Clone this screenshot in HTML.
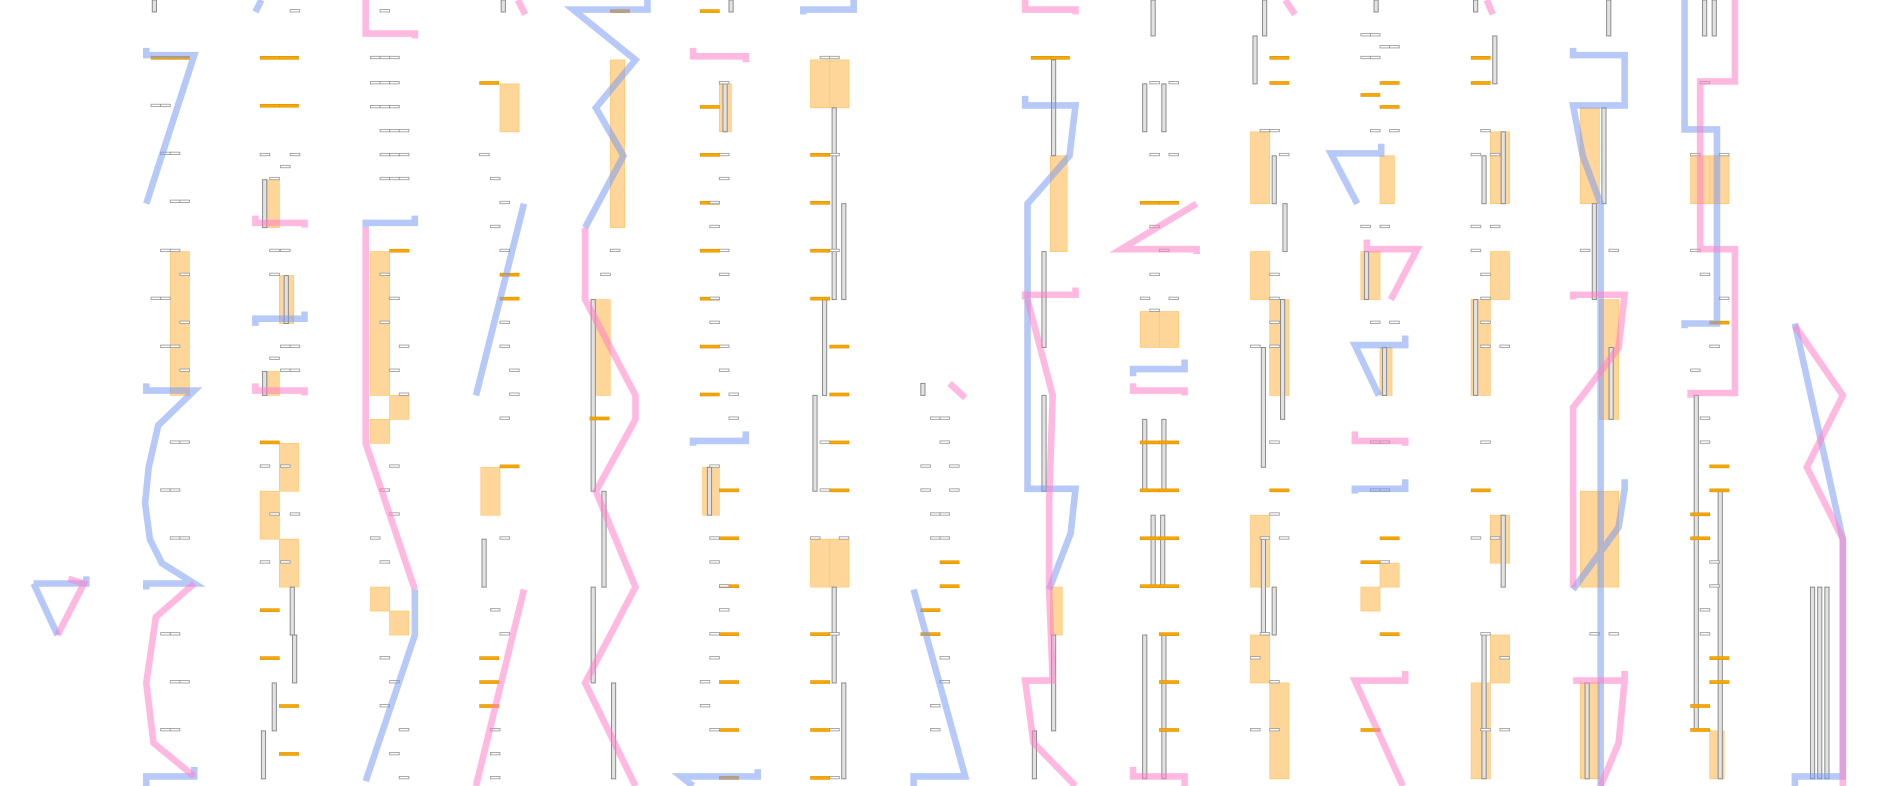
<!DOCTYPE html>
<html><head><meta charset="utf-8"><style>
html,body{margin:0;padding:0;background:#fff;width:1880px;height:786px;overflow:hidden}
svg{display:block}
.o{fill:#ffd699;stroke:#ffc870;stroke-width:.6}
.b{fill:none;stroke:#7b9cf2;stroke-width:5.5;stroke-linejoin:miter;opacity:.55}
.b2{fill:none;stroke:#b9cbfb;stroke-width:3.5;stroke-linejoin:miter;opacity:.6}
.p{fill:none;stroke:#ff80c8;stroke-width:5.5;stroke-linejoin:miter;opacity:.55}
.v{fill:#e2e2e2;stroke:#888;stroke-width:.8}
.g{fill:#fff;stroke:#999;stroke-width:.7}
.d{fill:#f5a800;stroke:#e09000;stroke-width:.5}
</style></head><body>
<svg width="1880" height="786" viewBox="0 0 1568 656" preserveAspectRatio="none" xmlns="http://www.w3.org/2000/svg">
<g class="o">
<rect x="142" y="210" width="16" height="120"/>
<rect x="223" y="150" width="10" height="40"/><rect x="233" y="230" width="12" height="40"/><rect x="223" y="310" width="10" height="20"/>
<rect x="233" y="370" width="16" height="40"/><rect x="217" y="410" width="16" height="40"/><rect x="233" y="450" width="16" height="40"/>
<rect x="309" y="210" width="16" height="120"/><rect x="309" y="350" width="16" height="20"/><rect x="325" y="330" width="16" height="20"/>
<rect x="309" y="490" width="16" height="20"/><rect x="325" y="510" width="16" height="20"/>
<rect x="417" y="70" width="16" height="40"/><rect x="401" y="390" width="16" height="40"/>
<rect x="509" y="50" width="12" height="140"/><rect x="493" y="250" width="16" height="80"/>
<rect x="600" y="70" width="10" height="40"/><rect x="586" y="390" width="14" height="40"/>
<rect x="676" y="50" width="16" height="40"/><rect x="692" y="50" width="16" height="40"/>
<rect x="676" y="450" width="16" height="40"/><rect x="692" y="450" width="16" height="40"/>
<rect x="876" y="130" width="14" height="80"/><rect x="876" y="490" width="10" height="40"/>
<rect x="951" y="260" width="16" height="30"/><rect x="967" y="260" width="16" height="30"/>
<rect x="1043" y="110" width="16" height="60"/><rect x="1043" y="210" width="16" height="40"/><rect x="1059" y="250" width="16" height="80"/>
<rect x="1043" y="430" width="16" height="60"/><rect x="1043" y="530" width="16" height="40"/><rect x="1059" y="570" width="16" height="80"/>
<rect x="1135" y="210" width="16" height="40"/><rect x="1151" y="130" width="12" height="40"/><rect x="1151" y="290" width="10" height="40"/>
<rect x="1151" y="470" width="16" height="20"/><rect x="1135" y="490" width="16" height="20"/>
<rect x="1243" y="110" width="16" height="60"/><rect x="1243" y="210" width="16" height="40"/><rect x="1227" y="250" width="16" height="80"/>
<rect x="1243" y="430" width="16" height="40"/><rect x="1243" y="530" width="16" height="40"/><rect x="1227" y="570" width="16" height="80"/>
<rect x="1318" y="90" width="16" height="80"/><rect x="1334" y="250" width="16" height="100"/>
<rect x="1318" y="410" width="16" height="80"/><rect x="1334" y="410" width="16" height="80"/><rect x="1318" y="570" width="16" height="80"/>
<rect x="1410" y="130" width="16" height="40"/><rect x="1426" y="130" width="16" height="40"/><rect x="1426" y="610" width="12" height="40"/>
</g>
<g class="v">
<rect x="127" y="0" width="3.5" height="10"/>
<rect x="219" y="150" width="3.5" height="40"/><rect x="237" y="230" width="3.5" height="40"/><rect x="219" y="310" width="3.5" height="20"/>
<rect x="242" y="490" width="3.5" height="40"/><rect x="244" y="530" width="3.5" height="40"/><rect x="227" y="570" width="3.5" height="40"/><rect x="218" y="610" width="3.5" height="40"/>
<rect x="418" y="0" width="3.5" height="10"/><rect x="402" y="450" width="3.5" height="40"/>
<rect x="493" y="250" width="3.5" height="160"/><rect x="502" y="410" width="3.5" height="80"/><rect x="493" y="490" width="3.5" height="80"/><rect x="510" y="570" width="3.5" height="80"/>
<rect x="608" y="0" width="3.5" height="10"/><rect x="603" y="70" width="3.5" height="40"/><rect x="590" y="390" width="3.5" height="40"/>
<rect x="694" y="90" width="3.5" height="160"/><rect x="702" y="170" width="3.5" height="80"/><rect x="686" y="250" width="3.5" height="80"/><rect x="678" y="330" width="3.5" height="80"/>
<rect x="694" y="490" width="3.5" height="80"/><rect x="702" y="570" width="3.5" height="80"/>
<rect x="768" y="320" width="3.5" height="10"/>
<rect x="877" y="50" width="3.5" height="80"/><rect x="869" y="210" width="3.5" height="80"/><rect x="869" y="330" width="3.5" height="80"/>
<rect x="877" y="530" width="3.5" height="80"/><rect x="861" y="610" width="3.5" height="40"/>
<rect x="960" y="0" width="3.5" height="30"/><rect x="953" y="70" width="3.5" height="40"/><rect x="969" y="70" width="3.5" height="40"/>
<rect x="953" y="350" width="3.5" height="60"/><rect x="969" y="350" width="3.5" height="60"/><rect x="960" y="430" width="3.5" height="60"/><rect x="968" y="430" width="3.5" height="60"/>
<rect x="953" y="530" width="3.5" height="120"/><rect x="969" y="530" width="3.5" height="120"/>
<rect x="1053" y="0" width="3.5" height="30"/><rect x="1045" y="30" width="3.5" height="40"/><rect x="1061" y="130" width="3.5" height="40"/><rect x="1070" y="170" width="3.5" height="40"/>
<rect x="1052" y="290" width="3.5" height="100"/><rect x="1068" y="250" width="3.5" height="100"/><rect x="1052" y="450" width="3.5" height="80"/><rect x="1061" y="490" width="3.5" height="40"/>
<rect x="1146" y="0" width="3.5" height="10"/><rect x="1138" y="210" width="3.5" height="40"/><rect x="1153" y="290" width="3.5" height="40"/>
<rect x="1229" y="0" width="3.5" height="10"/><rect x="1236" y="130" width="3.5" height="40"/><rect x="1252" y="110" width="3.5" height="60"/><rect x="1245" y="30" width="3.5" height="40"/>
<rect x="1229" y="250" width="3.5" height="80"/><rect x="1252" y="430" width="3.5" height="60"/><rect x="1236" y="530" width="3.5" height="120"/>
<rect x="1340" y="0" width="3.5" height="30"/><rect x="1328" y="170" width="3.5" height="80"/><rect x="1336" y="90" width="3.5" height="80"/>
<rect x="1322" y="570" width="3.5" height="80"/><rect x="1342" y="290" width="3.5" height="60"/>
<rect x="1420" y="0" width="3.5" height="30"/><rect x="1428" y="0" width="3.5" height="30"/><rect x="1413" y="330" width="3.5" height="280"/><rect x="1433" y="410" width="3.5" height="240"/>
<rect x="1510" y="490" width="3.5" height="160"/><rect x="1516" y="490" width="3.5" height="160"/><rect x="1522" y="490" width="3.5" height="160"/>
</g>
<g class="d">
<rect x="126" y="47" width="16" height="2.5"/><rect x="142" y="47" width="16" height="2.5"/>
<rect x="217" y="47" width="16" height="2.5"/><rect x="233" y="47" width="16" height="2.5"/><rect x="217" y="87" width="16" height="2.5"/><rect x="233" y="87" width="16" height="2.5"/>
<rect x="217" y="368" width="16" height="2.5"/><rect x="217" y="508" width="16" height="2.5"/><rect x="217" y="548" width="16" height="2.5"/><rect x="233" y="588" width="16" height="2.5"/><rect x="233" y="628" width="16" height="2.5"/>
<rect x="325" y="208" width="16" height="2.5"/><rect x="400" y="68" width="16" height="2.5"/><rect x="417" y="228" width="16" height="2.5"/><rect x="417" y="248" width="16" height="2.5"/><rect x="417" y="388" width="16" height="2.5"/>
<rect x="400" y="548" width="16" height="2.5"/><rect x="400" y="568" width="16" height="2.5"/><rect x="400" y="588" width="16" height="2.5"/>
<rect x="492" y="348" width="16" height="2.5"/><rect x="509" y="8" width="16" height="2.5"/>
<rect x="584" y="8" width="16" height="2.5"/><rect x="584" y="88" width="16" height="2.5"/><rect x="584" y="128" width="16" height="2.5"/><rect x="584" y="168" width="16" height="2.5"/>
<rect x="584" y="208" width="16" height="2.5"/><rect x="584" y="248" width="16" height="2.5"/><rect x="584" y="288" width="16" height="2.5"/><rect x="584" y="328" width="16" height="2.5"/>
<rect x="600" y="408" width="16" height="2.5"/><rect x="600" y="448" width="16" height="2.5"/><rect x="600" y="488" width="16" height="2.5"/><rect x="600" y="528" width="16" height="2.5"/>
<rect x="600" y="568" width="16" height="2.5"/><rect x="600" y="608" width="16" height="2.5"/><rect x="600" y="648" width="16" height="2.5"/>
<rect x="676" y="128" width="16" height="2.5"/><rect x="676" y="168" width="16" height="2.5"/><rect x="676" y="208" width="16" height="2.5"/><rect x="676" y="248" width="16" height="2.5"/>
<rect x="692" y="288" width="16" height="2.5"/><rect x="692" y="328" width="16" height="2.5"/><rect x="692" y="368" width="16" height="2.5"/><rect x="692" y="408" width="16" height="2.5"/>
<rect x="676" y="528" width="16" height="2.5"/><rect x="676" y="568" width="16" height="2.5"/><rect x="676" y="608" width="16" height="2.5"/><rect x="676" y="648" width="16" height="2.5"/>
<rect x="784" y="468" width="16" height="2.5"/><rect x="784" y="488" width="16" height="2.5"/><rect x="768" y="508" width="16" height="2.5"/><rect x="768" y="528" width="16" height="2.5"/>
<rect x="860" y="47" width="16" height="2.5"/><rect x="876" y="47" width="16" height="2.5"/>
<rect x="951" y="168" width="16" height="2.5"/><rect x="967" y="168" width="16" height="2.5"/>
<rect x="951" y="368" width="16" height="2.5"/><rect x="967" y="368" width="16" height="2.5"/><rect x="951" y="408" width="16" height="2.5"/><rect x="967" y="408" width="16" height="2.5"/>
<rect x="951" y="448" width="16" height="2.5"/><rect x="967" y="448" width="16" height="2.5"/><rect x="951" y="488" width="16" height="2.5"/><rect x="967" y="488" width="16" height="2.5"/>
<rect x="967" y="528" width="16" height="2.5"/><rect x="967" y="568" width="16" height="2.5"/><rect x="967" y="608" width="16" height="2.5"/>
<rect x="1059" y="47" width="16" height="2.5"/><rect x="1059" y="68" width="16" height="2.5"/><rect x="1059" y="408" width="16" height="2.5"/>
<rect x="1135" y="78" width="16" height="2.5"/><rect x="1151" y="68" width="16" height="2.5"/><rect x="1151" y="88" width="16" height="2.5"/><rect x="1151" y="448" width="16" height="2.5"/>
<rect x="1135" y="468" width="16" height="2.5"/><rect x="1151" y="528" width="16" height="2.5"/><rect x="1135" y="608" width="16" height="2.5"/>
<rect x="1227" y="47" width="16" height="2.5"/><rect x="1227" y="68" width="16" height="2.5"/><rect x="1227" y="408" width="16" height="2.5"/>
<rect x="1426" y="268" width="16" height="2.5"/><rect x="1426" y="388" width="16" height="2.5"/><rect x="1426" y="408" width="16" height="2.5"/><rect x="1410" y="428" width="16" height="2.5"/>
<rect x="1410" y="448" width="16" height="2.5"/><rect x="1426" y="548" width="16" height="2.5"/><rect x="1426" y="568" width="16" height="2.5"/><rect x="1410" y="588" width="16" height="2.5"/><rect x="1410" y="608" width="16" height="2.5"/>
</g>
<g class="g">
<rect x="126" y="87" width="8" height="2"/><rect x="134" y="87" width="8" height="2"/><rect x="134" y="127" width="8" height="2"/><rect x="142" y="127" width="8" height="2"/>
<rect x="142" y="167" width="8" height="2"/><rect x="150" y="167" width="8" height="2"/><rect x="134" y="208" width="8" height="2"/><rect x="142" y="208" width="8" height="2"/>
<rect x="150" y="228" width="8" height="2"/><rect x="126" y="248" width="8" height="2"/><rect x="134" y="248" width="8" height="2"/><rect x="150" y="268" width="8" height="2"/>
<rect x="134" y="288" width="8" height="2"/><rect x="142" y="288" width="8" height="2"/><rect x="150" y="308" width="8" height="2"/>
<rect x="142" y="368" width="8" height="2"/><rect x="150" y="368" width="8" height="2"/><rect x="134" y="408" width="8" height="2"/><rect x="142" y="408" width="8" height="2"/>
<rect x="142" y="448" width="8" height="2"/><rect x="150" y="448" width="8" height="2"/><rect x="134" y="528" width="8" height="2"/><rect x="142" y="528" width="8" height="2"/>
<rect x="142" y="568" width="8" height="2"/><rect x="150" y="568" width="8" height="2"/><rect x="134" y="608" width="8" height="2"/><rect x="142" y="608" width="8" height="2"/>
<rect x="242" y="8" width="8" height="2"/><rect x="217" y="128" width="8" height="2"/><rect x="242" y="128" width="8" height="2"/><rect x="234" y="138" width="8" height="2"/><rect x="225" y="148" width="8" height="2"/>
<rect x="225" y="208" width="8" height="2"/><rect x="234" y="208" width="8" height="2"/><rect x="225" y="228" width="8" height="2"/><rect x="234" y="288" width="8" height="2"/><rect x="242" y="288" width="8" height="2"/>
<rect x="225" y="298" width="8" height="2"/><rect x="234" y="308" width="8" height="2"/><rect x="242" y="308" width="8" height="2"/><rect x="217" y="388" width="8" height="2"/><rect x="234" y="388" width="8" height="2"/>
<rect x="225" y="428" width="8" height="2"/><rect x="242" y="428" width="8" height="2"/><rect x="217" y="468" width="8" height="2"/><rect x="234" y="468" width="8" height="2"/>
<rect x="317" y="8" width="8" height="2"/><rect x="309" y="47" width="8" height="2"/><rect x="317" y="47" width="8" height="2"/><rect x="325" y="47" width="8" height="2"/>
<rect x="309" y="68" width="8" height="2"/><rect x="317" y="68" width="8" height="2"/><rect x="325" y="68" width="8" height="2"/><rect x="309" y="88" width="8" height="2"/><rect x="317" y="88" width="8" height="2"/><rect x="325" y="88" width="8" height="2"/>
<rect x="317" y="108" width="8" height="2"/><rect x="325" y="108" width="8" height="2"/><rect x="333" y="108" width="8" height="2"/><rect x="317" y="128" width="8" height="2"/><rect x="325" y="128" width="8" height="2"/><rect x="333" y="128" width="8" height="2"/>
<rect x="317" y="148" width="8" height="2"/><rect x="325" y="148" width="8" height="2"/><rect x="333" y="148" width="8" height="2"/>
<rect x="317" y="228" width="8" height="2"/><rect x="325" y="248" width="8" height="2"/><rect x="317" y="268" width="8" height="2"/><rect x="333" y="288" width="8" height="2"/><rect x="325" y="308" width="8" height="2"/><rect x="333" y="328" width="8" height="2"/>
<rect x="325" y="388" width="8" height="2"/><rect x="317" y="408" width="8" height="2"/><rect x="325" y="428" width="8" height="2"/><rect x="309" y="448" width="8" height="2"/><rect x="317" y="468" width="8" height="2"/>
<rect x="317" y="548" width="8" height="2"/><rect x="325" y="568" width="8" height="2"/><rect x="317" y="588" width="8" height="2"/><rect x="333" y="608" width="8" height="2"/><rect x="325" y="628" width="8" height="2"/><rect x="333" y="648" width="8" height="2"/>
<rect x="400" y="128" width="8" height="2"/><rect x="409" y="148" width="8" height="2"/><rect x="417" y="168" width="8" height="2"/><rect x="409" y="188" width="8" height="2"/><rect x="417" y="208" width="8" height="2"/>
<rect x="417" y="268" width="8" height="2"/><rect x="417" y="288" width="8" height="2"/><rect x="425" y="308" width="8" height="2"/><rect x="425" y="328" width="8" height="2"/><rect x="417" y="348" width="8" height="2"/>
<rect x="417" y="448" width="8" height="2"/><rect x="409" y="508" width="8" height="2"/><rect x="417" y="528" width="8" height="2"/><rect x="409" y="608" width="8" height="2"/><rect x="409" y="628" width="8" height="2"/><rect x="409" y="648" width="8" height="2"/>
<rect x="509" y="208" width="8" height="2"/><rect x="501" y="228" width="8" height="2"/>
<rect x="600" y="68" width="8" height="2"/><rect x="600" y="128" width="8" height="2"/><rect x="600" y="148" width="8" height="2"/><rect x="592" y="168" width="8" height="2"/><rect x="592" y="188" width="8" height="2"/>
<rect x="600" y="208" width="8" height="2"/><rect x="600" y="228" width="8" height="2"/><rect x="592" y="248" width="8" height="2"/><rect x="592" y="268" width="8" height="2"/><rect x="600" y="288" width="8" height="2"/>
<rect x="600" y="308" width="8" height="2"/><rect x="608" y="328" width="8" height="2"/><rect x="608" y="348" width="8" height="2"/><rect x="592" y="388" width="8" height="2"/>
<rect x="592" y="448" width="8" height="2"/><rect x="592" y="468" width="8" height="2"/><rect x="600" y="488" width="8" height="2"/><rect x="600" y="508" width="8" height="2"/><rect x="592" y="528" width="8" height="2"/><rect x="592" y="548" width="8" height="2"/>
<rect x="584" y="568" width="8" height="2"/><rect x="584" y="588" width="8" height="2"/><rect x="592" y="608" width="8" height="2"/>
<rect x="684" y="47" width="8" height="2"/><rect x="692" y="47" width="8" height="2"/><rect x="692" y="128" width="8" height="2"/><rect x="692" y="208" width="8" height="2"/>
<rect x="684" y="368" width="8" height="2"/><rect x="684" y="408" width="8" height="2"/><rect x="676" y="448" width="8" height="2"/><rect x="700" y="448" width="8" height="2"/><rect x="692" y="528" width="8" height="2"/><rect x="692" y="608" width="8" height="2"/><rect x="692" y="648" width="8" height="2"/>
<rect x="776" y="348" width="8" height="2"/><rect x="784" y="348" width="8" height="2"/><rect x="784" y="368" width="8" height="2"/><rect x="768" y="388" width="8" height="2"/><rect x="792" y="388" width="8" height="2"/>
<rect x="768" y="408" width="8" height="2"/><rect x="792" y="408" width="8" height="2"/><rect x="776" y="428" width="8" height="2"/><rect x="784" y="428" width="8" height="2"/><rect x="776" y="448" width="8" height="2"/><rect x="784" y="448" width="8" height="2"/>
<rect x="784" y="548" width="8" height="2"/><rect x="784" y="568" width="8" height="2"/><rect x="776" y="588" width="8" height="2"/><rect x="776" y="608" width="8" height="2"/>
<rect x="959" y="68" width="8" height="2"/><rect x="975" y="68" width="8" height="2"/><rect x="959" y="128" width="8" height="2"/><rect x="975" y="128" width="8" height="2"/><rect x="959" y="188" width="8" height="2"/>
<rect x="967" y="208" width="8" height="2"/><rect x="959" y="228" width="8" height="2"/><rect x="951" y="248" width="8" height="2"/><rect x="975" y="248" width="8" height="2"/><rect x="959" y="258" width="8" height="2"/>
<rect x="1051" y="108" width="8" height="2"/><rect x="1059" y="108" width="8" height="2"/><rect x="1067" y="128" width="8" height="2"/><rect x="1059" y="228" width="8" height="2"/><rect x="1059" y="248" width="8" height="2"/><rect x="1059" y="268" width="8" height="2"/>
<rect x="1043" y="288" width="8" height="2"/><rect x="1059" y="288" width="8" height="2"/><rect x="1059" y="368" width="8" height="2"/><rect x="1059" y="428" width="8" height="2"/><rect x="1051" y="448" width="8" height="2"/><rect x="1067" y="448" width="8" height="2"/>
<rect x="1051" y="528" width="8" height="2"/><rect x="1043" y="548" width="8" height="2"/><rect x="1059" y="568" width="8" height="2"/><rect x="1043" y="608" width="8" height="2"/><rect x="1059" y="608" width="8" height="2"/>
<rect x="1135" y="28" width="8" height="2"/><rect x="1143" y="28" width="8" height="2"/><rect x="1151" y="38" width="8" height="2"/><rect x="1159" y="38" width="8" height="2"/><rect x="1135" y="47" width="8" height="2"/><rect x="1143" y="47" width="8" height="2"/>
<rect x="1143" y="108" width="8" height="2"/><rect x="1159" y="108" width="8" height="2"/><rect x="1135" y="188" width="8" height="2"/><rect x="1151" y="188" width="8" height="2"/><rect x="1143" y="268" width="8" height="2"/><rect x="1159" y="268" width="8" height="2"/>
<rect x="1143" y="368" width="8" height="2"/><rect x="1151" y="368" width="8" height="2"/><rect x="1143" y="408" width="8" height="2"/><rect x="1151" y="408" width="8" height="2"/><rect x="1151" y="468" width="8" height="2"/>
<rect x="1235" y="108" width="8" height="2"/><rect x="1227" y="128" width="8" height="2"/><rect x="1243" y="128" width="8" height="2"/><rect x="1227" y="188" width="8" height="2"/><rect x="1243" y="188" width="8" height="2"/>
<rect x="1227" y="208" width="8" height="2"/><rect x="1235" y="228" width="8" height="2"/><rect x="1235" y="248" width="8" height="2"/><rect x="1235" y="268" width="8" height="2"/><rect x="1235" y="288" width="8" height="2"/><rect x="1251" y="288" width="8" height="2"/>
<rect x="1235" y="368" width="8" height="2"/><rect x="1227" y="448" width="8" height="2"/><rect x="1243" y="448" width="8" height="2"/><rect x="1235" y="528" width="8" height="2"/><rect x="1251" y="548" width="8" height="2"/><rect x="1235" y="608" width="8" height="2"/><rect x="1251" y="608" width="8" height="2"/>
<rect x="1318" y="208" width="8" height="2"/><rect x="1342" y="208" width="8" height="2"/><rect x="1326" y="528" width="8" height="2"/><rect x="1342" y="528" width="8" height="2"/>
<rect x="1418" y="68" width="8" height="2"/><rect x="1410" y="128" width="8" height="2"/><rect x="1434" y="128" width="8" height="2"/><rect x="1410" y="208" width="8" height="2"/><rect x="1418" y="228" width="8" height="2"/><rect x="1434" y="248" width="8" height="2"/>
<rect x="1426" y="288" width="8" height="2"/><rect x="1410" y="308" width="8" height="2"/><rect x="1418" y="348" width="8" height="2"/><rect x="1418" y="368" width="8" height="2"/>
<rect x="1426" y="468" width="8" height="2"/><rect x="1426" y="488" width="8" height="2"/><rect x="1418" y="508" width="8" height="2"/><rect x="1418" y="528" width="8" height="2"/>
</g>
<g class="b">
<polyline points="28,487 72,487 72,481"/><polyline points="28,487 48,530"/>
<polyline points="122,40 122,46 162,46 122,170"/>
<polyline points="122,320 122,326 162,326 132,355 124,390 121,420 125,450 135,470 162,487 122,487 122,492"/>
<polyline points="162,640 162,648 122,648 122,656"/>
<polyline points="218,0 213,10"/>
<polyline points="213,272 213,266 254,266 254,260"/>
<polyline points="305,190 305,186 346,186 346,180"/>
<polyline points="346,492 346,530 305,652"/>
<polyline points="437,170 397,330"/>
<polyline points="540,0 540,8 478,8 530,50 497,90 520,130 488,190"/>
<polyline points="622,360 622,368 578,368 578,372"/>
<polyline points="632,642 632,648 568,648 578,656"/>
<polyline points="712,0 712,8 670,8 670,12"/>
<polyline points="762,492 805,648 762,648 762,656"/>
<polyline points="855,80 855,88 897,88 892,130 857,170 857,408 897,408 893,445 875,492"/>
<polyline points="988,300 988,308 945,308 945,314"/>
<polyline points="1152,120 1152,128 1110,128 1132,170"/>
<polyline points="1172,280 1172,288 1130,288 1150,330"/>
<polyline points="1172,400 1172,408 1130,408 1130,412"/>
<polyline points="1312,40 1312,46 1355,46 1355,88 1312,88 1320,130 1335,170 1335,656"/>
<polyline points="1355,400 1355,408 1350,440 1312,492"/>
<polyline points="1405,0 1405,108 1432,108 1432,270 1405,270 1405,274"/>
<polyline points="1497,270 1537,450 1537,648 1497,648 1497,656"/>
</g>
<g class="p">
<polyline points="57,483 70,487 48,530"/>
<polyline points="162,487 130,515 122,570 128,620 162,648"/>
<polyline points="213,180 213,186 254,186 254,190"/>
<polyline points="213,320 213,326 254,326 254,330"/>
<polyline points="305,0 305,28 346,28 346,32"/>
<polyline points="305,190 305,370 346,492"/>
<polyline points="432,0 438,12"/>
<polyline points="437,492 397,656"/>
<polyline points="488,190 488,250 530,330 530,350 497,410 530,490 488,570 530,656"/>
<polyline points="578,40 578,47 622,47 622,52"/>
<polyline points="792,320 805,332"/>
<polyline points="855,0 855,8 897,8 897,12"/>
<polyline points="855,250 855,246 897,246 897,240"/>
<polyline points="857,250 878,330 875,420 875,492 878,568 855,568 862,620 897,656"/>
<polyline points="998,170 935,208 998,208 998,212"/>
<polyline points="945,320 945,326 988,326 988,330"/>
<polyline points="945,640 945,648 988,648 988,656"/>
<polyline points="1072,0 1080,12"/>
<polyline points="1140,200 1140,208 1182,208 1160,250"/>
<polyline points="1130,360 1130,368 1172,368 1172,372"/>
<polyline points="1172,560 1172,568 1130,568 1170,656"/>
<polyline points="1240,0 1245,12"/>
<polyline points="1312,250 1312,246 1355,246 1350,290 1320,330 1312,340 1312,490"/>
<polyline points="1355,560 1355,568 1350,620 1335,656"/>
<polyline points="1312,568 1355,568"/>
<polyline points="1447,0 1447,68 1418,68 1418,208 1447,208 1447,328 1410,328 1410,332"/>
<polyline points="1497,272 1537,330 1507,390 1537,450 1537,656"/>
</g>
</svg>
</body></html>
